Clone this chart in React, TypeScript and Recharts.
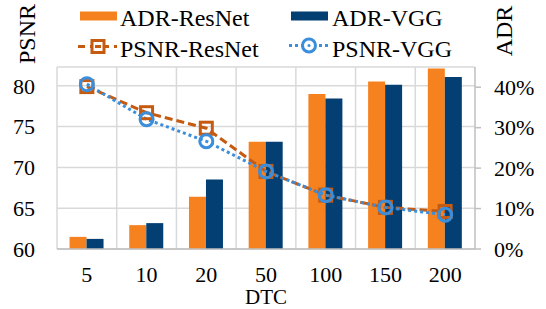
import { ComposedChart, Bar, Line, XAxis, YAxis, CartesianGrid } from 'recharts'

document.body.style.margin = '0'

const categories = ['5', '10', '20', '50', '100', '150', '200']
const adrResNet = [3.0, 5.9, 12.9, 26.5, 38.3, 41.4, 44.6]
const adrVgg = [2.5, 6.4, 17.2, 26.5, 37.2, 40.6, 42.5]
const psnrResNet = [79.9, 76.7, 74.8, 69.5, 66.6, 65.1, 64.6]
const psnrVgg = [80.2, 75.9, 73.2, 69.5, 66.6, 65.1, 64.2]
const psnrTicks = [60, 65, 70, 75, 80]
const adrTicks = [0, 10, 20, 30, 40]

const FONT = '"Liberation Serif", "Times New Roman", serif'
const ORANGE = '#F5821F'
const NAVY = '#043F74'
const RESNET_LINE = '#C55A11'
const VGG_LINE = '#3B8EDB'
const AXIS_GRAY = '#BFBFBF'
const GRID_GRAY = '#D9D9D9'

const data = categories.map((c, i) => ({
  dtc: c,
  adrResNet: adrResNet[i],
  adrVgg: adrVgg[i],
  psnrResNet: psnrResNet[i],
  psnrVgg: psnrVgg[i],
}))

// eslint-disable-next-line @typescript-eslint/no-explicit-any
const SquareDot = ({ cx, cy }: any) => {
  if (cx == null || cy == null) return null
  return (
    <rect x={cx - 6} y={cy - 6} width={12} height={12}
      fill="none" stroke={RESNET_LINE} strokeWidth={3} />
  )
}

// eslint-disable-next-line @typescript-eslint/no-explicit-any
const CircleDot = ({ cx, cy }: any) => {
  if (cx == null || cy == null) return null
  return <circle cx={cx} cy={cy} r={6.5} fill="none" stroke={VGG_LINE} strokeWidth={3} />
}

function Overlay() {
  const text = { fontFamily: FONT, fontSize: 24, fill: '#000' }
  return (
    <svg width={546} height={64} style={{ position: 'absolute', left: 0, top: 0 }}>
      {/* axis titles */}
      <text {...text} x={0} y={0} textAnchor="middle" dominantBaseline="central"
        transform="translate(27 34) rotate(-90)">PSNR</text>
      <text {...text} x={0} y={0} textAnchor="middle" dominantBaseline="central"
        transform="translate(504 31) rotate(-90)">ADR</text>

      {/* row 1: bars */}
      <rect x={80} y={11.5} width={37} height={9} fill={ORANGE} />
      <text {...text} x={120} y={26}>ADR-ResNet</text>
      <rect x={291} y={11.5} width={37} height={9} fill={NAVY} />
      <text {...text} x={332} y={26}>ADR-VGG</text>

      {/* row 2: lines */}
      <line x1={78} x2={117} y1={46.5} y2={46.5} stroke={RESNET_LINE} strokeWidth={3} strokeDasharray="7 5" />
      <rect x={92} y={40.5} width={12} height={12} fill="#fff" stroke={RESNET_LINE} strokeWidth={3} />
      <line x1={95} x2={101} y1={46.5} y2={46.5} stroke={RESNET_LINE} strokeWidth={3} />
      <text {...text} x={120} y={57}>PSNR-ResNet</text>
      <line x1={289} x2={329} y1={45.5} y2={45.5} stroke={VGG_LINE} strokeWidth={3} strokeDasharray="3 3" />
      <circle cx={309} cy={45.5} r={6.5} fill="#fff" stroke={VGG_LINE} strokeWidth={3} />
      <circle cx={309} cy={45.5} r={1.5} fill={VGG_LINE} />
      <text {...text} x={332} y={57}>PSNR-VGG</text>
    </svg>
  )
}

export default function App() {
  const tick = { fontFamily: FONT, fontSize: 22, fill: '#000' }
  return (
    <div style={{ position: 'relative', width: 546, height: 309, background: '#fff' }}>
      <ComposedChart width={546} height={309} data={data}
        margin={{ top: 67, right: 0, bottom: 0, left: 0 }}
        barCategoryGap="21%" barGap={0}>
        <CartesianGrid yAxisId="left" stroke={GRID_GRAY} strokeWidth={1.5}
          verticalCoordinatesGenerator={({ offset }: any) =>
            categories.map((_, i) => offset.left + (i * offset.width) / categories.length)
          } />
        <XAxis dataKey="dtc" height={60} tick={tick} tickSize={0} tickMargin={17}
          axisLine={{ stroke: AXIS_GRAY, strokeWidth: 1.5 }} tickLine={false}
          label={{ value: 'DTC', position: 'insideBottom', offset: 5, style: { ...tick, fontSize: 21 } }} />
        <YAxis yAxisId="left" width={57} domain={[60, 82.3]} ticks={psnrTicks}
          allowDataOverflow axisLine={false} tickLine={false} tickSize={0} tickMargin={22} tick={tick} />
        <YAxis yAxisId="right" orientation="right" width={71} domain={[0, 45]} ticks={adrTicks}
          allowDataOverflow tickFormatter={(v: number) => `${v}%`}
          axisLine={{ stroke: AXIS_GRAY, strokeWidth: 1.5 }}
          tickLine={{ stroke: AXIS_GRAY, strokeWidth: 1.5 }} tickSize={6} tickMargin={13} tick={tick} />
        <Bar yAxisId="right" dataKey="adrResNet" name="ADR-ResNet" fill={ORANGE} isAnimationActive={false} />
        <Bar yAxisId="right" dataKey="adrVgg" name="ADR-VGG" fill={NAVY} isAnimationActive={false} />
        <Line yAxisId="left" dataKey="psnrResNet" name="PSNR-ResNet" stroke={RESNET_LINE} strokeWidth={3}
          strokeDasharray="8 4" dot={<SquareDot />} activeDot={false} isAnimationActive={false} />
        <Line yAxisId="left" dataKey="psnrVgg" name="PSNR-VGG" stroke={VGG_LINE} strokeWidth={3}
          strokeDasharray="3 3" dot={<CircleDot />} activeDot={false} isAnimationActive={false} />
      </ComposedChart>
      <Overlay />
    </div>
  )
}
